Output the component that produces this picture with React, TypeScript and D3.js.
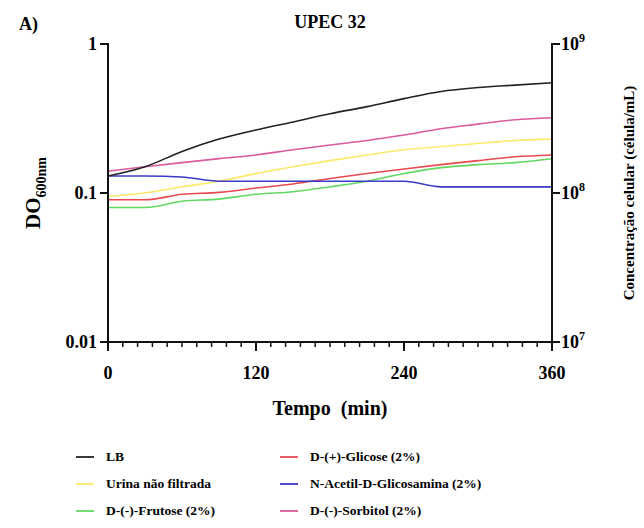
import React from "react";
import * as d3 from "d3";

const times = [0, 30, 60, 90, 120, 150, 180, 210, 240, 270, 300, 330, 360];
const lb = [0.13, 0.15, 0.19, 0.23, 0.265, 0.3, 0.34, 0.38, 0.43, 0.48, 0.51, 0.53, 0.55];
const urina = [0.095, 0.1, 0.11, 0.12, 0.135, 0.15, 0.165, 0.18, 0.195, 0.205, 0.215, 0.225, 0.23];
const frutose = [0.08, 0.08, 0.088, 0.091, 0.098, 0.102, 0.11, 0.12, 0.135, 0.148, 0.155, 0.16, 0.17];
const glicose = [0.09, 0.09, 0.098, 0.101, 0.108, 0.115, 0.125, 0.135, 0.145, 0.155, 0.165, 0.175, 0.18];
const acetil = [0.13, 0.13, 0.128, 0.12, 0.12, 0.12, 0.12, 0.12, 0.12, 0.11, 0.11, 0.11, 0.11];
const sorbitol = [0.14, 0.15, 0.16, 0.17, 0.18, 0.195, 0.21, 0.225, 0.245, 0.27, 0.29, 0.31, 0.32];

const seriesNames = [
  "LB",
  "Urina não filtrada",
  "D-(-)-Frutose (2%)",
  "D-(+)-Glicose (2%)",
  "N-Acetil-D-Glicosamina (2%)",
  "D-(-)-Sorbitol (2%)",
];
const seriesValues = [lb, urina, frutose, glicose, acetil, sorbitol];
const seriesColors = ["#222222", "#fbe96a", "#62d862", "#e84a50", "#3b3bc8", "#dd5a9c"];

const xTicks = [0, 120, 240, 360];
const yTicks = [1, 0.1, 0.01];
const yTickLabels = ["1", "0.1", "0.01"];
const rightTicks = [1e9, 1e8, 1e7];
const rightTickExp = ["9", "8", "7"];

const FAM = "Liberation Serif";

export default function App() {
  const left = 108;
  const right = 552;
  const top = 44;
  const bottom = 342;
  const x = d3.scaleLinear().domain([0, 360]).range([left, right]);
  const y = d3.scaleLog().domain([0.01, 1]).range([bottom, top]);
  const yR = d3.scaleLog().domain([1e7, 1e9]).range([bottom, top]);
  const minor = d3.range(0, 361, 12);

  const line = d3
    .line<number>()
    .x((_, i) => x(times[i]))
    .y((d) => y(d))
    .curve(d3.curveMonotoneX);

  const order = [1, 2, 3, 5, 4, 0];
  const legendRows = [461, 488, 515];
  const fs = { fontFamily: `"${FAM}", monospace` };
  const fa = `"${FAM}", monospace`;

  return (
    <svg width={644} height={528} style={{ position: "absolute", left: 0, top: 0 }}>
      <rect x={0} y={0} width={644} height={528} fill="#fff" />
      <text x={19} y={30} fontSize={18} fontWeight="bold" fontFamily={fa} style={fs}>A)</text>
      <text x={(left + right) / 2} y={28} fontSize={18} fontWeight="bold" fontFamily={fa} textAnchor="middle" style={fs}>UPEC 32</text>

      {order.map((k) => (
        <path key={k} d={line(seriesValues[k]) || ""} fill="none" stroke={seriesColors[k]} strokeWidth={1.6} />
      ))}

      <line x1={left} x2={left} y1={top - 1} y2={bottom + 1} stroke="#111" strokeWidth={2} />
      <line x1={right} x2={right} y1={top - 1} y2={bottom + 1} stroke="#111" strokeWidth={2} />
      <line x1={left - 1} x2={right + 1} y1={bottom} y2={bottom} stroke="#111" strokeWidth={2} />

      {yTicks.map((t, i) => (
        <g key={"yl" + i}>
          <line x1={left - 8} x2={left} y1={y(t)} y2={y(t)} stroke="#111" strokeWidth={2} />
          <text x={left - 11} y={y(t) + 6} fontSize={18} fontWeight="bold" fontFamily={fa} textAnchor="end" style={fs}>{yTickLabels[i]}</text>
        </g>
      ))}

      {rightTicks.map((t, i) => (
        <g key={"yr" + i}>
          <line x1={right} x2={right + 8} y1={yR(t)} y2={yR(t)} stroke="#111" strokeWidth={2} />
          <text x={right + 9} y={yR(t) + 6} fontSize={18} fontWeight="bold" fontFamily={fa} style={fs}>
            10<tspan dy={-8} fontSize={12}>{rightTickExp[i]}</tspan>
          </text>
        </g>
      ))}

      {minor.map((t) => (
        <line
          key={"m" + t}
          x1={x(t)}
          x2={x(t)}
          y1={bottom}
          y2={bottom + (t % 120 === 0 ? 9 : 5)}
          stroke="#111"
          strokeWidth={t % 120 === 0 ? 2 : 1.5}
        />
      ))}

      {xTicks.map((t) => (
        <text key={"xt" + t} x={x(t)} y={379} fontSize={18} fontWeight="bold" fontFamily={fa} textAnchor="middle" style={fs}>{t}</text>
      ))}

      <text x={(left + right) / 2} y={415} fontSize={20} fontWeight="bold" fontFamily={fa} textAnchor="middle" style={fs}>
        Tempo{"\u00a0\u00a0"}(min)
      </text>

      <text transform={`translate(40,${y(0.1)}) rotate(-90)`} fontSize={21} fontWeight="bold" fontFamily={fa} textAnchor="middle" style={fs}>
        DO<tspan dy={6} fontSize={14}>600nm</tspan>
      </text>

      <text transform={`translate(634,${y(0.1)}) rotate(-90)`} fontSize={15} fontWeight="bold" fontFamily={fa} textAnchor="middle" style={fs}>
        Concentração celular (célula/mL)
      </text>

      {seriesNames.map((name, i) => {
        const col = i < 3 ? 0 : 1;
        const row = i % 3;
        const lx = col === 0 ? 76 : 280;
        const ty = legendRows[row];
        return (
          <g key={"lg" + i}>
            <line x1={lx} x2={lx + 18} y1={ty - 4} y2={ty - 4} stroke={seriesColors[i]} strokeWidth={1.8} />
            <text x={lx + 30} y={ty} fontSize={13.5} fontWeight="bold" fontFamily={fa} style={fs}>{name}</text>
          </g>
        );
      })}
    </svg>
  );
}
